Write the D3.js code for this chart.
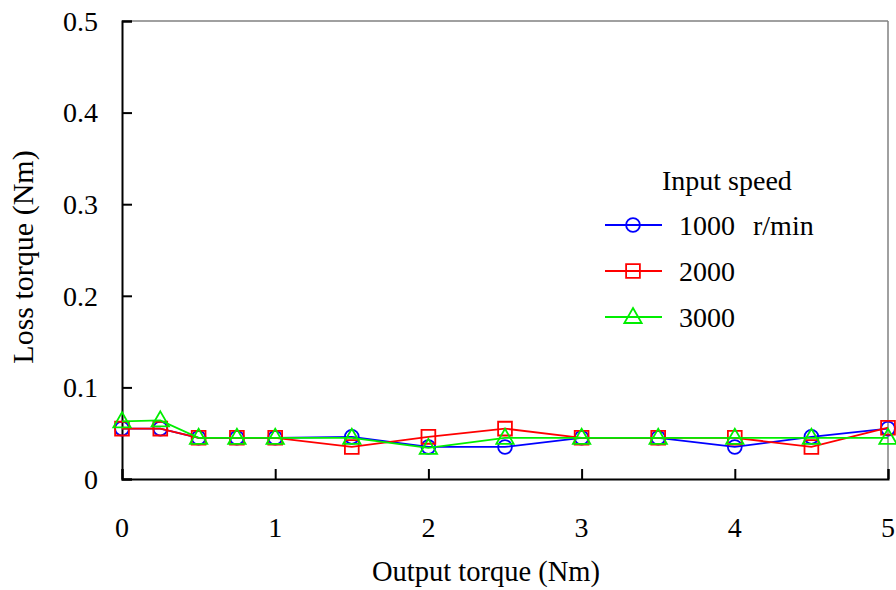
<!DOCTYPE html>
<html>
<head>
<meta charset="utf-8">
<script src="https://cdn.jsdelivr.net/npm/d3@7"></script>
<style>
  html, body { margin: 0; padding: 0; background: #fff; }
  text { font-family: "Liberation Serif", "Times New Roman", serif; fill: #000; }
</style>
</head>
<body>
<div id="chart"></div>
<script>
(function () {
  'use strict';

  // Output torque (Nm)
  const X_VALUES = [0, 0.25, 0.5, 0.75, 1, 1.5, 2, 2.5, 3, 3.5, 4, 4.5, 5];
  // Loss torque (Nm) per input speed
  const LOSS_1000 = [0.055, 0.055, 0.045, 0.045, 0.045, 0.046, 0.035, 0.035, 0.045, 0.045, 0.035, 0.046, 0.055];
  const LOSS_2000 = [0.055, 0.055, 0.045, 0.045, 0.045, 0.035, 0.046, 0.055, 0.045, 0.045, 0.045, 0.035, 0.056];
  const LOSS_3000 = [0.063, 0.064, 0.045, 0.045, 0.045, 0.045, 0.034, 0.045, 0.045, 0.045, 0.045, 0.045, 0.045];
  const SERIES_NAMES = ['1000', '2000', '3000'];
  const X_TICKS = [0, 1, 2, 3, 4, 5];
  const Y_TICKS = [0, 0.1, 0.2, 0.3, 0.4, 0.5];

  const series = [
    { name: SERIES_NAMES[0], values: LOSS_1000, color: '#0000ff', shape: 'circle' },
    { name: SERIES_NAMES[1], values: LOSS_2000, color: '#ff0000', shape: 'square' },
    { name: SERIES_NAMES[2], values: LOSS_3000, color: '#00ee00', shape: 'triangle' },
  ];

  const W = 896, H = 590;
  const margin = { top: 21, right: 8, bottom: 111, left: 122 };
  const w = W - margin.left - margin.right;
  const h = H - margin.top - margin.bottom;
  const FS = 28;

  const svg = d3.select('#chart').append('svg')
    .attr('width', W).attr('height', H);
  const g = svg.append('g').attr('transform', `translate(${margin.left},${margin.top})`);

  const x = d3.scaleLinear().domain([0, 5]).range([0, w]);
  const y = d3.scaleLinear().domain([0, 0.5]).range([h, 0]);

  // top / right frame (grey)
  g.append('line').attr('x1', 0).attr('y1', 0).attr('x2', w).attr('y2', 0)
    .attr('stroke', '#808080').attr('stroke-width', 1.5);
  g.append('line').attr('x1', w).attr('y1', 0).attr('x2', w).attr('y2', h)
    .attr('stroke', '#808080').attr('stroke-width', 1.5);

  // axes with inward ticks
  const xAxis = g.append('g').attr('transform', `translate(0,${h})`)
    .call(d3.axisTop(x).tickValues(X_TICKS).tickSize(10).tickFormat(''));
  const yAxis = g.append('g')
    .call(d3.axisRight(y).tickValues(Y_TICKS).tickSize(10).tickFormat(''));
  [xAxis, yAxis].forEach(a => {
    a.select('.domain').attr('stroke', '#000').attr('stroke-width', 2);
    a.selectAll('.tick line').attr('stroke', '#000').attr('stroke-width', 2);
  });

  // tick labels
  g.selectAll('.xlab').data(X_TICKS).enter().append('text')
    .attr('x', d => x(d)).attr('y', h + 58)
    .attr('text-anchor', 'middle').attr('font-size', FS)
    .text(d => d);
  g.selectAll('.ylab').data(Y_TICKS).enter().append('text')
    .attr('x', -24).attr('y', d => y(d)).attr('dy', '0.35em')
    .attr('text-anchor', 'end').attr('font-size', FS)
    .text(d => d === 0 ? '0' : d3.format('.1f')(d));

  // axis titles
  svg.append('text').attr('x', 486).attr('y', 581)
    .attr('text-anchor', 'middle').attr('font-size', 28.5)
    .text('Output torque (Nm)');
  svg.append('text')
    .attr('transform', 'translate(33,257) rotate(-90)')
    .attr('text-anchor', 'middle').attr('font-size', 30)
    .text('Loss torque (Nm)');

  const symbols = {
    circle: d3.symbol().type(d3.symbolCircle).size(150),
    square: d3.symbol().type(d3.symbolSquare).size(190),
    triangle: d3.symbol().type(d3.symbolTriangle).size(130),
  };

  const line = d3.line().x(d => x(d[0])).y(d => y(d[1]));

  series.forEach(s => {
    const pts = X_VALUES.map((xv, i) => [xv, s.values[i]]);
    g.append('path').datum(pts)
      .attr('d', line).attr('fill', 'none')
      .attr('stroke', s.color).attr('stroke-width', 1.8);
    g.selectAll(null).data(pts).enter().append('path')
      .attr('d', symbols[s.shape])
      .attr('transform', d => `translate(${x(d[0])},${y(d[1]) + (s.shape === 'triangle' ? 1 : 0)})`)
      .attr('fill', 'none').attr('stroke', s.color).attr('stroke-width', 1.8);
  });

  // legend
  const lg = svg.append('g');
  lg.append('text').attr('x', 662).attr('y', 190).attr('font-size', FS).text('Input speed');
  series.forEach((s, i) => {
    const ly = 225 + i * 46;
    lg.append('line').attr('x1', 605).attr('x2', 662).attr('y1', ly).attr('y2', ly)
      .attr('stroke', s.color).attr('stroke-width', 1.8);
    lg.append('path').attr('d', symbols[s.shape])
      .attr('transform', `translate(633,${ly + (s.shape === 'triangle' ? 1 : 0)})`)
      .attr('fill', 'none').attr('stroke', s.color).attr('stroke-width', 1.8);
    lg.append('text').attr('x', 679).attr('y', ly + 10).attr('font-size', FS).text(s.name);
  });
  lg.append('text').attr('x', 753).attr('y', 235).attr('font-size', FS).text('r/min');
})();
</script>
</body>
</html>
